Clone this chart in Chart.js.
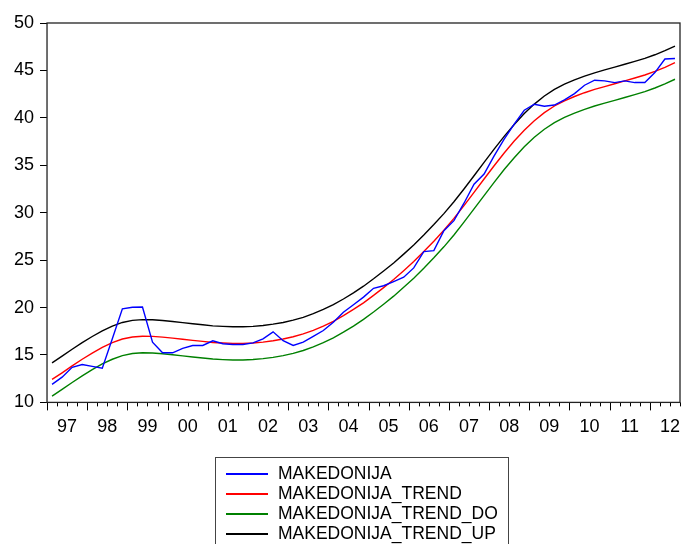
<!DOCTYPE html>
<html>
<head>
<meta charset="utf-8">
<script src="https://cdn.jsdelivr.net/npm/chart.js@4/dist/chart.umd.min.js"></script>
<style>
  html, body { margin: 0; padding: 0; background: #fff; }
  #wrap { position: relative; width: 681px; height: 544px; overflow: hidden; }
  #chart { position: absolute; left: 0; top: 0; }
  #legend {
    position: absolute; left: 215px; top: 457px; width: 294px; height: 110px;
    border: 1px solid #444; box-sizing: border-box;
    font-family: "Liberation Sans", Arial, sans-serif; font-size: 17.5px; color: #000;
    padding-top: 5px;
  }
  #legend .item { height: 20px; line-height: 20px; white-space: nowrap; position: relative; }
  #legend .swatch { position: absolute; left: 10px; top: 10px; width: 42px; height: 1.5px; }
  #legend .name { position: absolute; left: 62px; top: 0; }
</style>
</head>
<body>
<div id="wrap">
  <canvas id="chart" width="681" height="544"></canvas>
  <div id="legend"></div>
</div>
<script>
  // Quarterly observations 1997Q1 - 2012Q3
  const years = ['97', '98', '99', '00', '01', '02', '03', '04', '05', '06', '07', '08', '09', '10', '11', '12'];
  const quarters = ['Q1', 'Q2', 'Q3', 'Q4'];
  const nObs = 63;

  const makedonija = [
    11.9, 12.66, 13.7, 14.0, 13.8, 13.6, 16.7, 19.86, 20.03, 20.05,
    16.35, 15.23, 15.23, 15.7, 16.0, 16.0, 16.5, 16.18, 16.1, 16.1,
    16.28, 16.7, 17.44, 16.5, 16.0, 16.35, 16.95, 17.58, 18.45, 19.5,
    20.3, 21.1, 22.03, 22.3, 22.74, 23.2, 24.18, 25.9, 26.0, 28.1,
    29.16, 31.0, 33.0, 34.07, 36.0, 37.76, 39.34, 40.8, 41.44, 41.23,
    41.35, 41.9, 42.56, 43.44, 43.97, 43.9, 43.72, 43.9, 43.72, 43.72,
    44.77, 46.2, 46.26,
  ];
  const makedonijaTrend = [
    12.42, 13.12, 13.85, 14.55, 15.2, 15.8, 16.3, 16.68, 16.9, 16.98,
    16.96, 16.88, 16.78, 16.66, 16.54, 16.43, 16.32, 16.26, 16.22, 16.22,
    16.27, 16.36, 16.5, 16.68, 16.92, 17.22, 17.6, 18.05, 18.55, 19.15,
    19.8, 20.5, 21.28, 22.1, 22.95, 23.88, 24.85, 25.9, 27.0, 28.15,
    29.4, 30.75, 32.15, 33.55, 34.95, 36.3, 37.55, 38.7, 39.7, 40.55,
    41.25, 41.8, 42.25, 42.65, 43.0, 43.3, 43.6, 43.9, 44.2, 44.52,
    44.9, 45.33, 45.82,
  ];
  const makedonijaTrendDo = [
    10.67, 11.37, 12.1, 12.8, 13.45, 14.05, 14.55, 14.93, 15.15, 15.23,
    15.21, 15.13, 15.03, 14.91, 14.79, 14.68, 14.57, 14.51, 14.47, 14.47,
    14.52, 14.61, 14.75, 14.93, 15.17, 15.47, 15.85, 16.3, 16.8, 17.4,
    18.05, 18.75, 19.53, 20.35, 21.2, 22.13, 23.1, 24.15, 25.25, 26.4,
    27.65, 29.0, 30.4, 31.8, 33.2, 34.55, 35.8, 36.95, 37.95, 38.8,
    39.5, 40.05, 40.5, 40.9, 41.25, 41.55, 41.85, 42.15, 42.45, 42.77,
    43.15, 43.58, 44.07,
  ];
  const makedonijaTrendUp = [
    14.17, 14.87, 15.6, 16.3, 16.95, 17.55, 18.05, 18.43, 18.65, 18.73,
    18.71, 18.63, 18.53, 18.41, 18.29, 18.18, 18.07, 18.01, 17.97, 17.97,
    18.02, 18.11, 18.25, 18.43, 18.67, 18.97, 19.35, 19.8, 20.3, 20.9,
    21.55, 22.25, 23.03, 23.85, 24.7, 25.63, 26.6, 27.65, 28.75, 29.9,
    31.15, 32.5, 33.9, 35.3, 36.7, 38.05, 39.3, 40.45, 41.45, 42.3,
    43.0, 43.55, 44.0, 44.4, 44.75, 45.05, 45.35, 45.65, 45.95, 46.27,
    46.65, 47.08, 47.57,
  ];

  const seriesNames = ['MAKEDONIJA', 'MAKEDONIJA_TREND', 'MAKEDONIJA_TREND_DO', 'MAKEDONIJA_TREND_UP'];
  const seriesColors = ['#0000ff', '#ff0000', '#008000', '#000000'];
  const seriesData = [makedonija, makedonijaTrend, makedonijaTrendDo, makedonijaTrendUp];

  const yTicks = [10, 15, 20, 25, 30, 35, 40, 45, 50];

  // category labels like 97Q1
  const labels = [];
  for (let i = 0; i < nObs; i++) {
    labels.push(years[Math.floor(i / 4)] + quarters[i % 4]);
  }

  const font = { family: '"Liberation Sans", Arial, sans-serif', size: 18 };

  // Frame + EViews style quarter/year tick marks
  const framePlugin = {
    id: 'frame',
    afterDraw(chart) {
      const { ctx, chartArea } = chart;
      const x = chart.scales.x;
      ctx.save();
      ctx.strokeStyle = '#000';
      ctx.lineWidth = 1;
      for (let i = 0; i <= nObs; i++) {
        const px = Math.round(x.getPixelForValue(i - 0.5)) + 0.5;
        const len = i % 4 === 0 ? 8 : 4;
        ctx.beginPath();
        ctx.moveTo(px, chartArea.bottom);
        ctx.lineTo(px, chartArea.bottom + len);
        ctx.stroke();
      }
      ctx.strokeStyle = '#222';
      ctx.lineWidth = 1.3;
      ctx.strokeRect(chartArea.left, chartArea.top, chartArea.right - chartArea.left, chartArea.bottom - chartArea.top);
      ctx.restore();
    },
  };

  new Chart(document.getElementById('chart'), {
    type: 'line',
    data: {
      labels: labels,
      datasets: seriesNames.map((name, i) => ({
        label: name,
        data: seriesData[i],
        borderColor: seriesColors[i],
        borderWidth: 1.4,
        pointRadius: 0,
        tension: 0,
        fill: false,
      })),
    },
    options: {
      responsive: false,
      animation: false,
      layout: { padding: { left: 8, right: 1, top: 23, bottom: 92 } },
      plugins: {
        legend: { display: false },
        tooltip: { enabled: false },
      },
      scales: {
        x: {
          type: 'category',
          offset: true,
          grid: { display: false, drawTicks: false },
          border: { display: false },
          afterFit: (scale) => { scale.paddingLeft = 0; scale.paddingRight = 0; },
          ticks: {
            autoSkip: false,
            maxRotation: 0,
            padding: 14,
            labelOffset: 5,
            color: '#000',
            font: font,
            callback: (val, idx) => (idx % 4 === 1 ? years[Math.floor(idx / 4)] : ''),
          },
        },
        y: {
          min: 10,
          max: 50,
          afterBuildTicks: (scale) => { scale.ticks = yTicks.map((v) => ({ value: v })); },
          grid: { drawOnChartArea: false, drawTicks: true, tickLength: 7, color: '#000' },
          border: { display: false },
          ticks: { padding: 6, color: '#000', font: font },
        },
      },
    },
    plugins: [framePlugin],
  });

  // Legend box under the plot
  const legendEl = document.getElementById('legend');
  seriesNames.forEach((name, i) => {
    const item = document.createElement('div');
    item.className = 'item';
    item.innerHTML = '<span class="swatch" style="background:' + seriesColors[i] + '"></span><span class="name">' + name + '</span>';
    legendEl.appendChild(item);
  });
</script>
</body>
</html>
